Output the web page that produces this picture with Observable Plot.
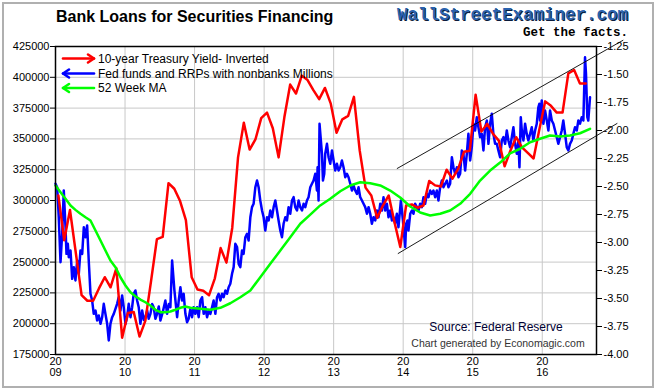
<!DOCTYPE html>
<html><head><meta charset="utf-8">
<script src="https://cdn.jsdelivr.net/npm/d3@7"></script>
<script src="https://cdn.jsdelivr.net/npm/@observablehq/plot@0.6"></script>
<style>
body{margin:0;background:#fff;}
#wrap{position:relative;width:656px;height:391px;overflow:hidden;background:#fff;}
#wrap svg{display:block;}
#over{position:absolute;left:0;top:0;pointer-events:none;}
</style>
</head><body>
<div id="wrap"></div>
<script>
// ---------- data ----------
const yearTicks = [2009, 2010, 2011, 2012, 2013, 2014, 2015, 2016];
const leftTicks = [175000, 200000, 225000, 250000, 275000, 300000, 325000, 350000, 375000, 400000, 425000];
const rightTicks = [-1.25, -1.5, -1.75, -2.0, -2.25, -2.5, -2.75, -3.0, -3.25, -3.5, -3.75, -4.0];

// 10-year Treasury yield, inverted, monthly from Jan 2009
const redStartYear = 2009;
const redValues = [
  -2.58,-2.98,-2.71,-3.09,-3.47,-3.52,-3.52,-3.41,-3.31,-3.40,-3.23,-3.85,
  -3.63,-3.62,-3.84,-3.70,-3.34,-2.97,-2.95,-2.47,-2.52,-2.63,-2.80,-3.31,
  -3.42,-3.43,-3.47,-3.32,-3.05,-3.18,-2.87,-2.24,-1.93,-2.17,-2.08,-1.89,
  -1.84,-1.98,-2.24,-1.88,-1.59,-1.67,-1.51,-1.55,-1.64,-1.72,-1.62,-1.76,
  -2.02,-1.90,-1.87,-1.70,-2.18,-2.51,-2.58,-2.78,-2.67,-2.58,-2.82,-3.04,
  -2.67,-2.66,-2.69,-2.67,-2.45,-2.49,-2.50,-2.35,-2.43,-2.34,-2.19,-2.18,
  -1.68,-2.01,-1.94,-2.03,-2.09,-2.32,-2.18,-2.06,-2.15,-2.20,-2.25,-1.99,
  -1.74,-1.78,-1.84,-1.84,-1.49,-1.46,-1.58,-1.58
];

// Fed funds and RRPs with nonbanks (weekly): [decimal year, value in thousands of millions]
const blueSeries = [
[2009.000,313.6],[2009.024,310.8],[2009.047,286.4],[2009.072,249.9],[2009.096,273.0],[2009.119,308.1],
[2009.144,278.3],[2009.158,256.7],[2009.177,264.9],[2009.191,254.0],[2009.216,259.4],[2009.240,236.4],
[2009.263,245.9],[2009.287,235.1],[2009.312,251.3],[2009.335,240.5],[2009.359,259.4],[2009.384,256.7],
[2009.407,278.3],[2009.431,270.2],[2009.455,279.7],[2009.478,251.3],[2009.503,224.3],[2009.527,218.8],
[2009.550,208.0],[2009.575,210.7],[2009.599,202.6],[2009.622,206.7],[2009.647,199.9],[2009.671,205.3],
[2009.694,216.1],[2009.718,208.0],[2009.743,199.9],[2009.766,186.4],[2009.790,199.9],[2009.815,205.3],
[2009.838,208.0],[2009.886,216.1],[2009.909,221.5],[2009.934,210.7],[2009.958,222.9],[2009.981,213.4],
[2010.006,199.9],[2010.030,205.3],[2010.053,216.1],[2010.078,205.3],[2010.102,213.4],[2010.125,224.3],
[2010.149,227.0],[2010.174,218.8],[2010.197,213.4],[2010.221,199.9],[2010.246,210.7],[2010.270,203.0],
[2010.293,205.3],[2010.318,210.7],[2010.340,204.0],[2010.365,208.0],[2010.390,216.0],[2010.412,213.4],
[2010.437,204.0],[2010.461,208.0],[2010.485,214.0],[2010.509,202.6],[2010.545,210.0],[2010.580,218.8],
[2010.605,208.0],[2010.630,216.0],[2010.652,213.4],[2010.677,251.3],[2010.710,227.0],[2010.749,205.3],
[2010.772,218.8],[2010.796,229.6],[2010.820,218.8],[2010.843,224.3],[2010.868,208.0],[2010.892,201.2],
[2010.915,204.0],[2010.940,212.1],[2010.964,205.3],[2010.987,213.4],[2011.011,208.0],[2011.036,213.4],
[2011.059,205.3],[2011.083,218.8],[2011.108,221.5],[2011.131,208.0],[2011.155,213.4],[2011.180,205.3],
[2011.203,210.7],[2011.227,208.0],[2011.251,213.4],[2011.274,218.8],[2011.299,208.0],[2011.323,221.5],
[2011.346,224.3],[2011.371,218.8],[2011.395,224.3],[2011.418,221.5],[2011.443,227.0],[2011.467,224.3],
[2011.490,229.6],[2011.514,232.4],[2011.539,240.5],[2011.562,245.9],[2011.586,264.8],[2011.611,262.1],
[2011.634,248.6],[2011.658,245.9],[2011.682,259.4],[2011.705,256.7],[2011.730,270.2],[2011.754,273.0],
[2011.777,267.5],[2011.802,286.4],[2011.826,294.6],[2011.849,297.3],[2011.874,310.8],[2011.898,316.2],
[2011.921,310.8],[2011.945,300.0],[2011.970,291.9],[2011.993,286.4],[2012.017,275.6],[2012.042,286.4],
[2012.065,283.8],[2012.089,291.9],[2012.114,286.4],[2012.137,294.6],[2012.161,300.0],[2012.185,291.9],
[2012.208,283.8],[2012.233,275.6],[2012.257,270.2],[2012.280,281.1],[2012.305,286.4],[2012.329,283.8],
[2012.352,294.6],[2012.376,289.2],[2012.401,300.0],[2012.424,302.7],[2012.448,294.6],[2012.473,291.9],
[2012.496,300.0],[2012.520,294.6],[2012.545,291.9],[2012.568,297.3],[2012.592,294.6],[2012.616,300.0],
[2012.639,302.7],[2012.664,310.8],[2012.688,313.6],[2012.711,316.2],[2012.736,321.7],[2012.760,308.1],
[2012.769,327.0],[2012.783,300.0],[2012.797,362.3],[2012.832,337.9],[2012.846,316.2],[2012.865,321.7],
[2012.879,337.9],[2012.904,346.0],[2012.927,335.1],[2012.951,329.8],[2012.976,340.6],[2012.999,332.5],
[2013.023,324.3],[2013.047,329.8],[2013.071,324.3],[2013.095,327.0],[2013.119,332.5],[2013.142,327.0],
[2013.167,318.9],[2013.191,321.7],[2013.214,318.9],[2013.239,313.6],[2013.263,308.1],[2013.286,312.2],
[2013.310,308.1],[2013.335,305.4],[2013.358,310.8],[2013.382,302.7],[2013.407,300.0],[2013.430,297.3],
[2013.454,294.6],[2013.479,289.2],[2013.502,294.6],[2013.526,289.2],[2013.550,281.1],[2013.573,286.4],
[2013.598,283.8],[2013.622,291.9],[2013.645,286.4],[2013.670,297.3],[2013.694,291.9],[2013.717,302.7],
[2013.741,291.9],[2013.766,297.3],[2013.789,286.4],[2013.813,291.9],[2013.838,283.8],[2013.861,286.4],
[2013.885,281.1],[2013.909,289.2],[2013.932,278.3],[2013.967,300.0],[2013.996,283.8],[2014.029,262.1],
[2014.043,281.1],[2014.062,283.8],[2014.076,275.6],[2014.101,289.2],[2014.125,291.9],[2014.148,289.2],
[2014.172,297.3],[2014.197,294.6],[2014.220,291.9],[2014.244,297.3],[2014.269,294.6],[2014.292,302.7],
[2014.316,297.3],[2014.341,305.4],[2014.364,302.7],[2014.388,308.1],[2014.412,305.4],[2014.435,308.1],
[2014.460,302.7],[2014.484,308.1],[2014.507,300.0],[2014.532,310.8],[2014.556,316.2],[2014.579,310.8],
[2014.603,313.6],[2014.628,316.2],[2014.651,310.8],[2014.675,313.6],[2014.700,335.1],[2014.723,327.0],
[2014.747,321.7],[2014.772,327.0],[2014.795,318.9],[2014.819,321.7],[2014.843,340.6],[2014.866,337.9],
[2014.891,324.3],[2014.915,337.9],[2014.938,354.1],[2014.963,332.5],[2014.987,343.3],[2015.010,362.3],
[2015.034,356.8],[2015.059,367.6],[2015.082,359.5],[2015.106,351.4],[2015.131,354.1],[2015.154,340.6],
[2015.178,359.5],[2015.203,364.9],[2015.226,346.0],[2015.250,362.3],[2015.274,370.4],[2015.297,354.1],
[2015.322,346.0],[2015.346,346.0],[2015.369,340.6],[2015.394,335.1],[2015.418,348.7],[2015.441,351.4],
[2015.466,346.0],[2015.490,356.8],[2015.513,348.7],[2015.537,343.3],[2015.562,351.4],[2015.585,359.5],
[2015.609,346.0],[2015.634,337.9],[2015.657,348.7],[2015.672,327.0],[2015.691,367.6],[2015.706,356.8],
[2015.729,348.7],[2015.753,362.3],[2015.777,354.1],[2015.800,348.7],[2015.825,354.1],[2015.849,359.5],
[2015.872,348.7],[2015.897,356.8],[2015.921,362.3],[2015.944,375.7],[2015.958,378.5],[2015.968,364.9],
[2015.993,381.2],[2016.016,362.3],[2016.040,373.0],[2016.065,364.9],[2016.088,356.8],[2016.112,373.0],
[2016.137,364.9],[2016.160,362.3],[2016.184,356.8],[2016.208,351.4],[2016.231,346.0],[2016.256,351.4],
[2016.280,356.8],[2016.303,364.9],[2016.328,354.1],[2016.352,343.3],[2016.375,340.6],[2016.399,346.0],
[2016.424,348.7],[2016.447,354.1],[2016.471,359.5],[2016.496,356.8],[2016.519,364.9],[2016.543,362.3],
[2016.567,367.6],[2016.591,364.9],[2016.615,416.3],[2016.629,402.8],[2016.648,367.6],[2016.662,364.9],
[2016.687,383.8]
];

// 52 week moving average: [decimal year, value in thousands of millions]
const greenSeries = [
[2009.000,312.2],[2009.072,306.7],[2009.144,301.4],[2009.216,295.9],[2009.287,292.4],[2009.359,289.2],
[2009.431,286.4],[2009.503,283.8],[2009.575,275.6],[2009.647,267.5],[2009.718,259.4],[2009.790,251.3],
[2009.862,245.9],[2009.934,237.7],[2010.006,231.0],[2010.078,225.6],[2010.149,222.3],[2010.221,219.6],
[2010.293,217.4],[2010.365,214.8],[2010.437,211.3],[2010.509,209.3],[2010.580,209.3],[2010.652,209.9],
[2010.724,211.3],[2010.796,212.9],[2010.868,214.0],[2010.940,212.9],[2011.083,212.1],[2011.227,211.3],
[2011.371,212.9],[2011.514,216.6],[2011.658,221.5],[2011.802,227.0],[2011.945,237.7],[2012.089,248.6],
[2012.233,259.4],[2012.376,270.2],[2012.520,281.1],[2012.664,288.5],[2012.807,296.0],[2012.951,301.4],
[2013.095,307.5],[2013.239,312.2],[2013.382,314.8],[2013.526,314.0],[2013.670,312.2],[2013.813,308.1],
[2013.957,302.4],[2014.101,295.1],[2014.244,290.3],[2014.388,287.8],[2014.532,289.2],[2014.675,291.9],
[2014.819,297.3],[2014.963,305.4],[2015.106,316.2],[2015.250,324.3],[2015.394,330.8],[2015.537,338.2],
[2015.681,342.0],[2015.825,347.3],[2015.968,350.1],[2016.112,352.8],[2016.256,352.0],[2016.399,352.8],
[2016.543,354.6],[2016.687,358.2]
];

// drawn trend channel: [decimal year, value]
const channelUpper = [[2013.914, 326000], [2017.160, 430000]];
const channelLower = [[2013.928, 257000], [2017.075, 362500]];

// ---------- helpers ----------
const toLeft = r => 425000 + (r + 1.25) * (250000 / 2.75);
const fromLeft = v => (v - 425000) * 2.75 / 250000 - 1.25;

const red = redValues.map((r, i) => ({x: redStartYear + (i + 0.5) / 12, y: toLeft(r)}));
const blue = blueSeries.map(([t, v]) => ({x: t, y: v * 1000}));
const green = greenSeries.map(([t, v]) => ({x: t, y: v * 1000}));

const FONT = "'Liberation Sans', Arial, Helvetica, sans-serif";

const chart = Plot.plot({
  width: 656, height: 391,
  marginTop: 46, marginBottom: 37, marginLeft: 55, marginRight: 60,
  x: {type: "linear", domain: [2009, 2016.78], label: null},
  y: {type: "linear", domain: [175000, 425000], label: null},
  style: {fontFamily: FONT, fontSize: "11px", color: "#000", background: "transparent", overflow: "visible"},
  marks: [
    Plot.gridX(yearTicks, {stroke: "#c8c8c8", strokeOpacity: 1, strokeWidth: 1}),
    Plot.gridY(leftTicks, {stroke: "#c8c8c8", strokeOpacity: 1, strokeWidth: 1}),
    Plot.line(blue, {x: "x", y: "y", stroke: "#0000ff", strokeWidth: 2.5}),
    Plot.line(red, {x: "x", y: "y", stroke: "#ff0000", strokeWidth: 2.5}),
    Plot.line(green, {x: "x", y: "y", stroke: "#00ff00", strokeWidth: 2.5}),
    Plot.line(channelUpper, {x: d => d[0], y: d => d[1], stroke: "#000", strokeWidth: 0.9}),
    Plot.line(channelLower, {x: d => d[0], y: d => d[1], stroke: "#000", strokeWidth: 0.9}),
    Plot.frame({stroke: "#000", strokeWidth: 1.5}),
    Plot.axisY(leftTicks, {anchor: "left", label: null, tickSize: 5, tickPadding: 1, tickFormat: d => String(d), stroke: "#000"}),
    Plot.axisY(rightTicks.map(toLeft), {anchor: "right", label: null, tickSize: 5, tickPadding: 2, tickFormat: v => fromLeft(v).toFixed(2), stroke: "#000"}),
    Plot.axisX(yearTicks, {anchor: "bottom", label: null, tickSize: 0, tickPadding: 3, tickFormat: d => "20\n" + String(d).slice(2)})
  ]
});

const wrap = document.getElementById("wrap");
wrap.appendChild(chart);

// ---------- overlay: titles, legend, notes, border ----------
const over = d3.select(wrap).append("svg").attr("id", "over").attr("width", 656).attr("height", 391);

over.append("rect").attr("x", 3).attr("y", 3).attr("width", 650).attr("height", 384)
  .attr("fill", "none").attr("stroke", "#b0b0b0").attr("stroke-width", 2);

over.append("text").attr("x", 56).attr("y", 22).text("Bank Loans for Securities Financing")
  .attr("font-family", FONT).attr("font-size", 16).attr("font-weight", "bold").attr("fill", "#000");

const MONO = "'Liberation Mono', 'Courier New', monospace";
over.append("text").attr("x", 628).attr("y", 19.5).attr("text-anchor", "end").text("WallStreetExaminer.com")
  .attr("font-family", MONO).attr("font-size", 17.5).attr("font-weight", "bold").attr("fill", "#2a62ae")
  .style("text-shadow", "1px 1px 0 #0a1a3a");
over.append("text").attr("x", 628).attr("y", 35.5).attr("text-anchor", "end").text("Get the facts.")
  .attr("font-family", MONO).attr("font-size", 12.5).attr("font-weight", "bold").attr("fill", "#000");

// legend
const legendItems = [
  {label: "10-year Treasury Yield- Inverted", color: "#ff0000", dir: "right", y: 58.5},
  {label: "Fed funds and RRPs with nonbanks Millions", color: "#0000ff", dir: "left", y: 73.5},
  {label: "52 Week MA", color: "#00ff00", dir: "left", y: 88}
];
for (const it of legendItems) {
  const g = over.append("g").attr("stroke", it.color).attr("stroke-width", 2.6).attr("fill", "none")
    .attr("stroke-linecap", "round").attr("stroke-linejoin", "round");
  g.append("line").attr("x1", 63).attr("x2", 94).attr("y1", it.y).attr("y2", it.y);
  if (it.dir === "right") {
    g.append("polyline").attr("points", `${88},${it.y - 4} ${94},${it.y} ${88},${it.y + 4}`);
  } else {
    g.append("polyline").attr("points", `${69},${it.y - 4} ${63},${it.y} ${69},${it.y + 4}`);
  }
  over.append("text").attr("x", 98).attr("y", it.y + 4.3).text(it.label)
    .attr("font-family", FONT).attr("font-size", 12).attr("fill", "#000");
}

over.append("text").attr("x", 496).attr("y", 331).attr("text-anchor", "middle").text("Source: Federal Reserve")
  .attr("font-family", FONT).attr("font-size", 12).attr("fill", "#000033");
over.append("text").attr("x", 498).attr("y", 347).attr("text-anchor", "middle").text("Chart generated by Economagic.com")
  .attr("font-family", FONT).attr("font-size", 10.5).attr("fill", "#333");
</script>
</body></html>
